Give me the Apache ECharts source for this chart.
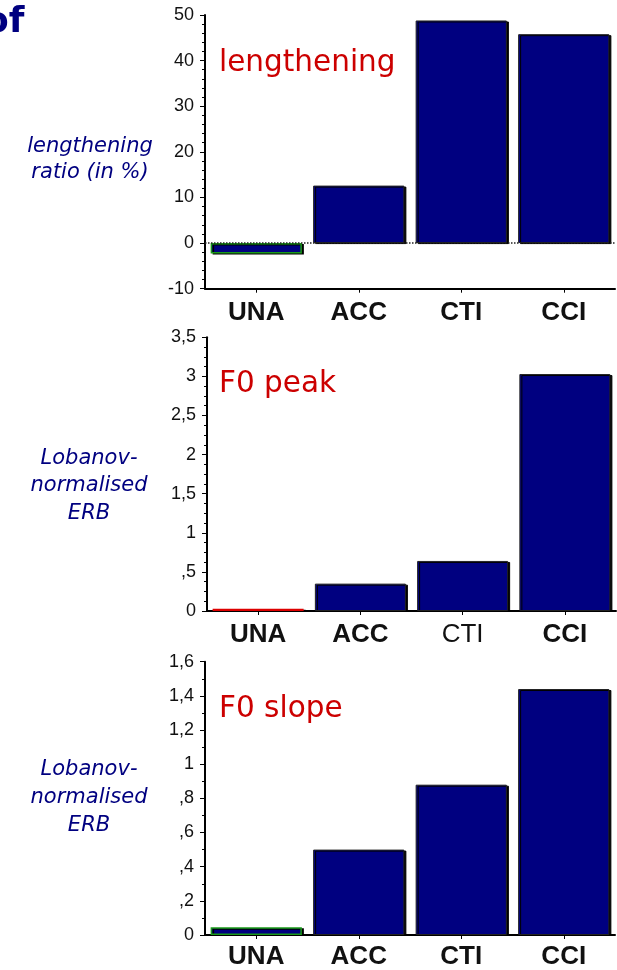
<!DOCTYPE html>
<html>
<head>
<meta charset="utf-8">
<script src="https://cdn.jsdelivr.net/npm/echarts@6/dist/echarts.min.js"></script>
<style>
html,body{margin:0;padding:0;background:#fff;}
#chart{width:617px;height:970px;}
</style>
</head>
<body>
<div id="chart"></div>
<script>
// ---- data ----
var categories = ['UNA', 'ACC', 'CTI', 'CCI'];
var lengtheningValues = [-2.3, 12.6, 48.8, 45.8];
var f0PeakValues = [0.03, 0.35, 0.64, 3.03];
var f0SlopeValues = [0.045, 0.50, 0.88, 1.44];
var lengtheningTicks = [-10, 0, 10, 20, 30, 40, 50];
var f0PeakTicks = [0, 0.5, 1, 1.5, 2, 2.5, 3, 3.5];
var f0SlopeTicks = [0, 0.2, 0.4, 0.6, 0.8, 1, 1.2, 1.4, 1.6];
var panelTitles = ['lengthening', 'F0 peak', 'F0 slope'];
var axisTitles = ['lengthening\nratio (in %)', 'Lobanov-\nnormalised\nERB', 'Lobanov-\nnormalised\nERB'];

var NAVY = '#000080';
var RED = '#cc0000';

function fmt(v) {
  if (Math.abs(v) < 1e-9) return '0';
  var s = String(Math.round(v * 100) / 100);
  if (s.indexOf('0.') === 0) s = s.substring(1);
  return s.replace('.', ',');
}

var grids = [
  {left: 205, top: 15, width: 410, height: 273.7},
  {left: 207, top: 337.3, width: 409, height: 273.7},
  {left: 205, top: 661.7, width: 410, height: 274}
];

function xAxisFor(i, labelMargin, boldFlags) {
  return {
    type: 'category',
    gridIndex: i,
    data: categories.map(function (c, k) {
      return {value: c, textStyle: {fontWeight: boldFlags[k] ? 'bold' : 'normal'}};
    }),
    axisLine: {show: true, onZero: false, lineStyle: {color: '#000', width: 2}},
    axisTick: {show: true, alignWithLabel: true, length: 4, lineStyle: {color: '#000', width: 1}},
    axisLabel: {fontSize: 26, fontFamily: 'Liberation Sans, Arial', color: '#111', margin: labelMargin},
    splitLine: {show: false}
  };
}

function yAxisFor(i, ticks, minorSplit) {
  return {
    type: 'value',
    gridIndex: i,
    min: ticks[0],
    max: ticks[ticks.length - 1],
    interval: ticks[1] - ticks[0],
    axisLine: {show: true, lineStyle: {color: '#000', width: 2}},
    axisTick: {show: true, length: 5, lineStyle: {color: '#000', width: 1}},
    minorTick: {show: true, splitNumber: minorSplit, length: 3, lineStyle: {color: '#000', width: 1}},
    splitLine: {show: false},
    minorSplitLine: {show: false},
    axisLabel: {fontSize: 18, fontFamily: 'Liberation Sans, Arial', color: '#111', margin: 11, formatter: fmt}
  };
}

var barStyle = {
  color: NAVY,
  borderColor: '#222',
  borderWidth: 1,
  shadowColor: '#000',
  shadowOffsetX: 2,
  shadowOffsetY: 1,
  shadowBlur: 0
};

function seriesFor(i, values, borderOverrides) {
  return {
    type: 'bar',
    xAxisIndex: i,
    yAxisIndex: i,
    barCategoryGap: '11%',
    itemStyle: barStyle,
    data: values.map(function (v, k) {
      var o = {value: v};
      if (borderOverrides[k]) o.itemStyle = {borderColor: borderOverrides[k], borderWidth: 1.5};
      return o;
    })
  };
}

var s1 = seriesFor(0, lengtheningValues, ['#1a9a1a', null, null, null]);
s1.markLine = {
  silent: true,
  symbol: 'none',
  label: {show: false},
  lineStyle: {color: '#222', type: 'dotted', width: 1.5},
  data: [{yAxis: 0}]
};
s1.z = 3;

var titleFont = '29.5px "DejaVu Sans"';
var nameFont = 'italic 21px "DejaVu Sans"';

var option = {
  animation: false,
  backgroundColor: '#fff',
  grid: grids,
  xAxis: [
    xAxisFor(0, 11, [true, true, true, true]),
    xAxisFor(1, 11, [true, true, false, true]),
    xAxisFor(2, 9, [true, true, true, true])
  ],
  yAxis: [
    yAxisFor(0, lengtheningTicks, 5),
    yAxisFor(1, f0PeakTicks, 4),
    yAxisFor(2, f0SlopeTicks, 2)
  ],
  series: [
    s1,
    seriesFor(1, f0PeakValues, ['#dd0000', null, null, null]),
    seriesFor(2, f0SlopeValues, ['#1a9a1a', null, null, null])
  ],
  graphic: [
    {type: 'text', x: -16, y: 23, style: {text: 'of', font: 'bold 36px "DejaVu Sans"', fill: NAVY, align: 'left', verticalAlign: 'middle'}},
    {type: 'text', x: 219, y: 63, style: {text: panelTitles[0], font: titleFont, fill: RED, align: 'left', verticalAlign: 'middle'}},
    {type: 'text', x: 219, y: 384, style: {text: panelTitles[1], font: titleFont, fill: RED, align: 'left', verticalAlign: 'middle'}},
    {type: 'text', x: 219, y: 709, style: {text: panelTitles[2], font: titleFont, fill: RED, align: 'left', verticalAlign: 'middle'}},
    {type: 'text', x: 90, y: 160, style: {text: axisTitles[0], font: nameFont, fill: NAVY, align: 'center', verticalAlign: 'middle', lineHeight: 26}},
    {type: 'text', x: 89, y: 486, style: {text: axisTitles[1], font: nameFont, fill: NAVY, align: 'center', verticalAlign: 'middle', lineHeight: 27.5}},
    {type: 'text', x: 89, y: 798, style: {text: axisTitles[2], font: nameFont, fill: NAVY, align: 'center', verticalAlign: 'middle', lineHeight: 28}}
  ]
};

var chart = echarts.init(document.getElementById('chart'), null, {renderer: 'canvas'});
chart.setOption(option);
</script>
</body>
</html>
